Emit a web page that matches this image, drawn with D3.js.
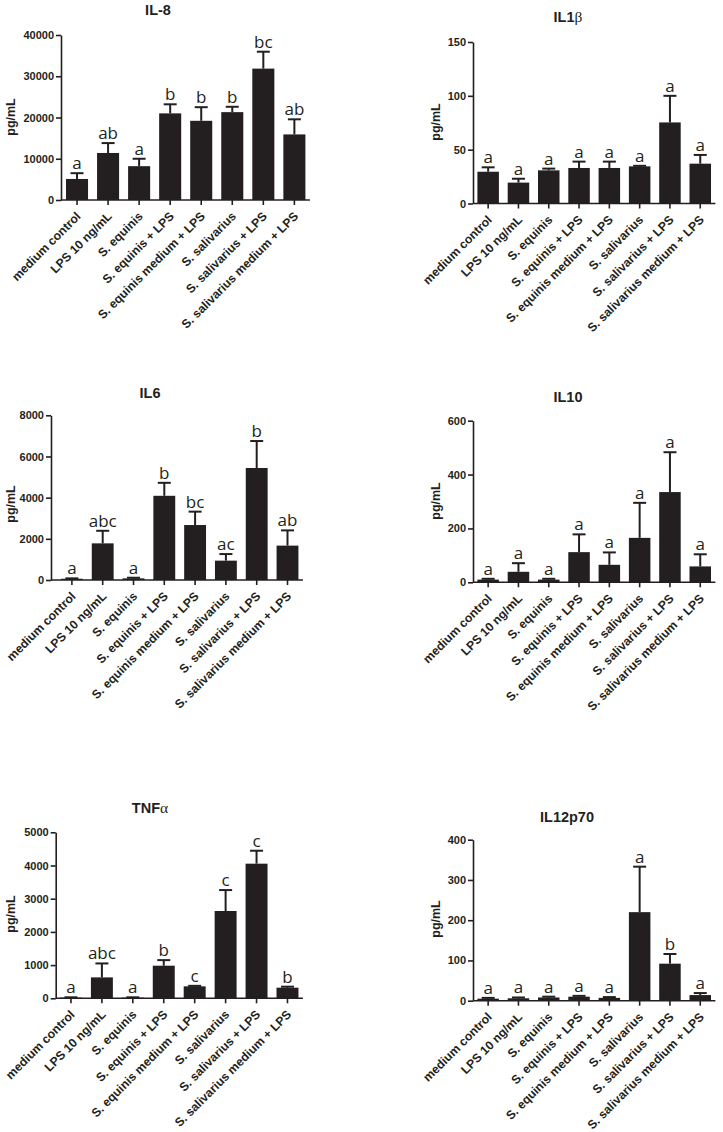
<!DOCTYPE html>
<html><head><meta charset="utf-8">
<script src="https://cdn.jsdelivr.net/npm/d3@7"></script>
<style>body{margin:0;background:#fff;} svg{display:block}</style>
</head><body>
<script>
// ---------- DATA ----------
const categories = ["medium control","LPS 10 ng/mL","S. equinis","S. equinis + LPS","S. equinis medium + LPS","S. salivarius","S. salivarius + LPS","S. salivarius medium + LPS"];

const il8Mean = [5100, 11400, 8200, 21000, 19200, 21300, 31850, 15900];
const il8Sem  = [1400, 2400, 1800, 2200, 3300, 1300, 4100, 3660];
const il8Letters = ["a","ab","a","b","b","b","bc","ab"];
const il8Ticks = [0, 10000, 20000, 30000, 40000];

const il1bMean = [29.5, 19.4, 30.8, 33, 33, 34.5, 75.3, 37];
const il1bSem  = [4.1, 3.6, 1.6, 5.9, 5.9, 0.5, 24.7, 8.1];
const il1bLetters = ["a","a","a","a","a","a","a","a"];
const il1bTicks = [0, 50, 100, 150];

const il6Mean = [60, 1780, 80, 4090, 2670, 940, 5440, 1670];
const il6Sem  = [20, 610, 30, 630, 650, 320, 1310, 740];
const il6Letters = ["a","abc","a","b","bc","ac","b","ab"];
const il6Ticks = [0, 2000, 4000, 6000, 8000];

const il10Mean = [10, 39, 10, 112, 65, 165, 335, 59];
const il10Sem  = [3, 32, 3, 66, 46, 130, 148, 45];
const il10Letters = ["a","a","a","a","a","a","a","a"];
const il10Ticks = [0, 200, 400, 600];

const tnfMean = [20, 630, 20, 982, 360, 2630, 4055, 320];
const tnfSem  = [10, 420, 10, 168, 15, 630, 390, 30];
const tnfLetters = ["a","abc","a","b","c","c","c","b"];
const tnfTicks = [0, 1000, 2000, 3000, 4000, 5000];

const il12Mean = [5, 6, 8, 10, 7, 220, 92, 14];
const il12Sem  = [2, 2, 2, 2, 2, 113, 24, 5];
const il12Letters = ["a","a","a","a","a","a","b","a"];
const il12Ticks = [0, 100, 200, 300, 400];

// ---------- LAYOUT ----------
const panels = [
  {title:"IL-8", greek:"", mean:il8Mean, sem:il8Sem, letters:il8Letters, ticks:il8Ticks,
   yAxisX:61, bandStart:61.5, step:31.05, y0:200, yTop:35, tx:158, ty:15, lx:13, ly:117},
  {title:"IL1", greek:"β", mean:il1bMean, sem:il1bSem, letters:il1bLetters, ticks:il1bTicks,
   yAxisX:473, bandStart:473, step:30.3, y0:203.5, yTop:42, tx:568, ty:22, lx:438, ly:122},
  {title:"IL6", greek:"", mean:il6Mean, sem:il6Sem, letters:il6Letters, ticks:il6Ticks,
   yAxisX:51, bandStart:56.5, step:30.8, y0:580, yTop:415.3, tx:150, ty:398, lx:13, ly:504},
  {title:"IL10", greek:"", mean:il10Mean, sem:il10Sem, letters:il10Letters, ticks:il10Ticks,
   yAxisX:473, bandStart:473, step:30.3, y0:582.3, yTop:420.7, tx:568, ty:402, lx:438, ly:501},
  {title:"TNF", greek:"α", mean:tnfMean, sem:tnfSem, letters:tnfLetters, ticks:tnfTicks,
   yAxisX:55.7, bandStart:55.5, step:30.93, y0:998.3, yTop:832.3, tx:150, ty:813, lx:13, ly:914},
  {title:"IL12p70", greek:"", mean:il12Mean, sem:il12Sem, letters:il12Letters, ticks:il12Ticks,
   yAxisX:473, bandStart:473, step:30.3, y0:1000.7, yTop:839.7, tx:567, ty:822, lx:438, ly:919}
];

const ink = "#231f20";
const svg = d3.select("body").append("svg").attr("width", 723).attr("height", 1132);

panels.forEach(p => {
  const g = svg.append("g");
  const x = d3.scaleBand().domain(categories)
    .range([p.bandStart, p.bandStart + 8 * p.step])
    .paddingInner(0.29).paddingOuter(0.145);
  const maxV = p.ticks[p.ticks.length - 1];
  const y = d3.scaleLinear().domain([0, maxV]).range([p.y0, p.yTop]);

  // bars
  g.selectAll("rect.bar").data(p.mean).join("rect")
    .attr("x", (d,i) => x(categories[i]))
    .attr("width", x.bandwidth())
    .attr("y", d => y(d))
    .attr("height", d => p.y0 - y(d))
    .attr("fill", ink);

  // error bars
  p.mean.forEach((m,i) => {
    const cx = x(categories[i]) + x.bandwidth()/2;
    const top = y(m + p.sem[i]);
    g.append("line").attr("x1", cx).attr("x2", cx).attr("y1", y(m)).attr("y2", top)
      .attr("stroke", ink).attr("stroke-width", 2);
    g.append("line").attr("x1", cx-6.5).attr("x2", cx+6.5).attr("y1", top).attr("y2", top)
      .attr("stroke", ink).attr("stroke-width", 2);
    g.append("text").attr("x", cx).attr("y", top - 4)
      .attr("text-anchor", "middle")
      .attr("font-family", "'Open Sans', sans-serif").attr("font-size", 17)
      .attr("fill", ink).text(p.letters[i]);
  });

  // y axis
  const ya = g.append("g").attr("transform", `translate(${p.yAxisX},0)`)
    .call(d3.axisLeft(y).tickValues(p.ticks).tickFormat(d3.format("d")).tickSize(5).tickSizeOuter(0).tickPadding(2));
  ya.select(".domain").attr("stroke", ink).attr("stroke-width", 1.6);
  ya.selectAll(".tick line").attr("stroke", ink).attr("stroke-width", 1.6);
  ya.selectAll(".tick text").attr("font-family", "'Liberation Sans', Arial, sans-serif")
    .attr("font-weight", "bold").attr("font-size", 11).attr("fill", ink);

  // x axis
  const xa = g.append("g").attr("transform", `translate(0,${p.y0})`)
    .call(d3.axisBottom(x).tickSize(5).tickSizeOuter(0));
  xa.select(".domain").remove();
  xa.selectAll(".tick line").attr("stroke", ink).attr("stroke-width", 1.6);
  xa.selectAll(".tick text")
    .attr("font-family", "'Liberation Sans', Arial, sans-serif")
    .attr("font-weight", "bold").attr("font-size", 12.2).attr("fill", ink)
    .attr("text-anchor", "end").attr("dy", null).attr("y", null)
    .attr("transform", "translate(4.5,17) rotate(-45)");
  g.append("line").attr("x1", p.yAxisX).attr("x2", x.range()[1])
    .attr("y1", p.y0).attr("y2", p.y0).attr("stroke", ink).attr("stroke-width", 1.6);

  // title
  const t = g.append("text").attr("x", p.tx).attr("y", p.ty).attr("text-anchor", "middle")
    .attr("font-family", "'Liberation Sans', Arial, sans-serif").attr("font-weight", "bold")
    .attr("font-size", 14.5).attr("fill", ink).text(p.title);
  if (p.greek) t.append("tspan").attr("font-family", "'Liberation Serif', serif")
    .attr("font-weight", "normal").attr("font-size", 15.5).text(p.greek);

  // y label
  g.append("text").attr("transform", `translate(${p.lx + 1.5},${p.ly}) rotate(-90)`)
    .attr("text-anchor", "middle")
    .attr("font-family", "'Liberation Sans', Arial, sans-serif").attr("font-weight", "bold")
    .attr("font-size", 12.5).attr("fill", ink).text("pg/mL");
});
</script>
</body></html>
